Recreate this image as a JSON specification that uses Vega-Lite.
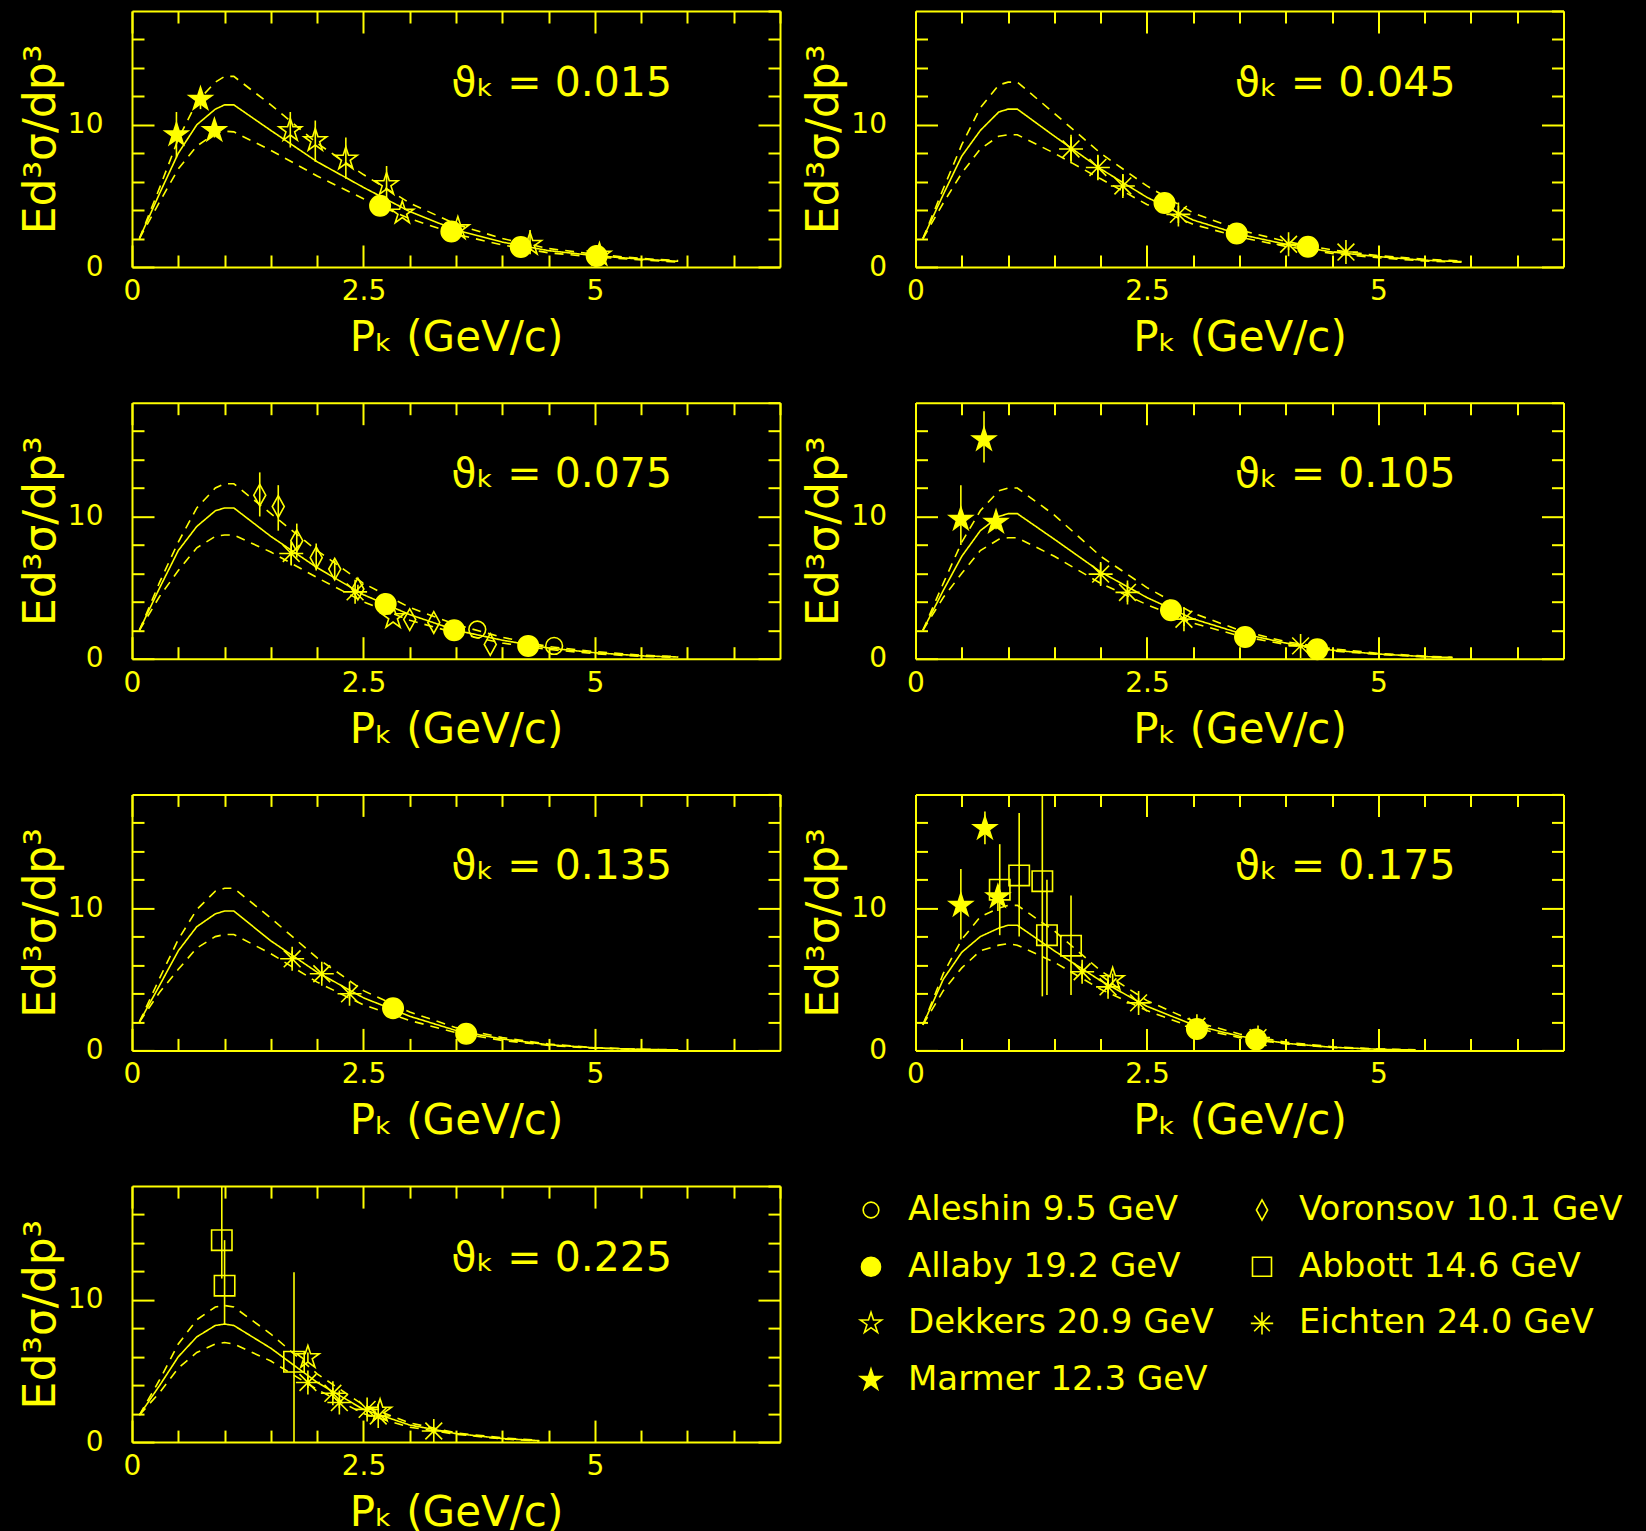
{
  "$schema": "https://vega.github.io/schema/vega-lite/v6.json",
  "background": "#000000",
  "autosize": {"type": "pad"},
  "padding": {"left": 19, "top": 10, "right": 40, "bottom": 0},
  "datasets": {
    "labels": [
      {"panel": "0.015", "label": "ϑₖ = 0.015"},
      {"panel": "0.045", "label": "ϑₖ = 0.045"},
      {"panel": "0.075", "label": "ϑₖ = 0.075"},
      {"panel": "0.105", "label": "ϑₖ = 0.105"},
      {"panel": "0.135", "label": "ϑₖ = 0.135"},
      {"panel": "0.175", "label": "ϑₖ = 0.175"},
      {"panel": "0.225", "label": "ϑₖ = 0.225"}
    ],
    "model": [
      {"panel": "0.015", "p": 0.08, "c": 2.0, "u": 2.0, "l": 2.0},
      {"panel": "0.015", "p": 0.3, "c": 5.2, "u": 5.6, "l": 4.6},
      {"panel": "0.015", "p": 0.5, "c": 8.0, "u": 9.0, "l": 6.9},
      {"panel": "0.015", "p": 0.7, "c": 10.0, "u": 11.6, "l": 8.5},
      {"panel": "0.015", "p": 0.9, "c": 11.1, "u": 13.0, "l": 9.4},
      {"panel": "0.015", "p": 1.0, "c": 11.4, "u": 13.4, "l": 9.55},
      {"panel": "0.015", "p": 1.1, "c": 11.4, "u": 13.4, "l": 9.5},
      {"panel": "0.015", "p": 1.5, "c": 9.6, "u": 11.4, "l": 8.2},
      {"panel": "0.015", "p": 2.0, "c": 7.4, "u": 8.7, "l": 6.4},
      {"panel": "0.015", "p": 2.5, "c": 5.6, "u": 6.5, "l": 4.8},
      {"panel": "0.015", "p": 3.0, "c": 3.9, "u": 4.5, "l": 3.4},
      {"panel": "0.015", "p": 3.5, "c": 2.6, "u": 3.0, "l": 2.3},
      {"panel": "0.015", "p": 4.0, "c": 1.75, "u": 2.0, "l": 1.55},
      {"panel": "0.015", "p": 4.5, "c": 1.15, "u": 1.3, "l": 1.0},
      {"panel": "0.015", "p": 5.0, "c": 0.8, "u": 0.9, "l": 0.7},
      {"panel": "0.015", "p": 5.5, "c": 0.55, "u": 0.6, "l": 0.5},
      {"panel": "0.015", "p": 5.9, "c": 0.4, "u": 0.45, "l": 0.35},
      {"panel": "0.045", "p": 0.08, "c": 2.0, "u": 2.0, "l": 2.0},
      {"panel": "0.045", "p": 0.3, "c": 5.1, "u": 5.5, "l": 4.5},
      {"panel": "0.045", "p": 0.5, "c": 7.8, "u": 8.6, "l": 6.6},
      {"panel": "0.045", "p": 0.7, "c": 9.6, "u": 11.2, "l": 8.3},
      {"panel": "0.045", "p": 0.9, "c": 10.9, "u": 12.8, "l": 9.2},
      {"panel": "0.045", "p": 1.0, "c": 11.1, "u": 13.0, "l": 9.3},
      {"panel": "0.045", "p": 1.1, "c": 11.1, "u": 13.0, "l": 9.3},
      {"panel": "0.045", "p": 1.5, "c": 9.2, "u": 10.8, "l": 8.0},
      {"panel": "0.045", "p": 2.0, "c": 6.9, "u": 8.0, "l": 6.2},
      {"panel": "0.045", "p": 2.5, "c": 4.9, "u": 5.7, "l": 4.4},
      {"panel": "0.045", "p": 3.0, "c": 3.3, "u": 3.8, "l": 3.0},
      {"panel": "0.045", "p": 3.5, "c": 2.3, "u": 2.6, "l": 2.1},
      {"panel": "0.045", "p": 4.0, "c": 1.6, "u": 1.8, "l": 1.45},
      {"panel": "0.045", "p": 4.5, "c": 1.05, "u": 1.2, "l": 0.95},
      {"panel": "0.045", "p": 5.0, "c": 0.73, "u": 0.8, "l": 0.65},
      {"panel": "0.045", "p": 5.5, "c": 0.47, "u": 0.55, "l": 0.42},
      {"panel": "0.045", "p": 5.9, "c": 0.38, "u": 0.42, "l": 0.33},
      {"panel": "0.075", "p": 0.08, "c": 2.0, "u": 2.0, "l": 2.0},
      {"panel": "0.075", "p": 0.3, "c": 5.0, "u": 5.4, "l": 4.4},
      {"panel": "0.075", "p": 0.5, "c": 7.6, "u": 8.2, "l": 6.2},
      {"panel": "0.075", "p": 0.7, "c": 9.3, "u": 10.6, "l": 7.8},
      {"panel": "0.075", "p": 0.9, "c": 10.4, "u": 12.0, "l": 8.6},
      {"panel": "0.075", "p": 1.0, "c": 10.6, "u": 12.3, "l": 8.7},
      {"panel": "0.075", "p": 1.1, "c": 10.6, "u": 12.3, "l": 8.7},
      {"panel": "0.075", "p": 1.5, "c": 8.6, "u": 10.2, "l": 7.5},
      {"panel": "0.075", "p": 2.0, "c": 6.4, "u": 7.6, "l": 5.7},
      {"panel": "0.075", "p": 2.5, "c": 4.5, "u": 5.3, "l": 4.0},
      {"panel": "0.075", "p": 3.0, "c": 3.1, "u": 3.6, "l": 2.7},
      {"panel": "0.075", "p": 3.5, "c": 2.0, "u": 2.4, "l": 1.8},
      {"panel": "0.075", "p": 4.0, "c": 1.3, "u": 1.5, "l": 1.1},
      {"panel": "0.075", "p": 4.5, "c": 0.75, "u": 0.85, "l": 0.65},
      {"panel": "0.075", "p": 5.0, "c": 0.42, "u": 0.5, "l": 0.35},
      {"panel": "0.075", "p": 5.5, "c": 0.2, "u": 0.25, "l": 0.16},
      {"panel": "0.075", "p": 5.9, "c": 0.12, "u": 0.15, "l": 0.1},
      {"panel": "0.105", "p": 0.08, "c": 2.0, "u": 2.0, "l": 2.0},
      {"panel": "0.105", "p": 0.3, "c": 4.8, "u": 5.3, "l": 4.3},
      {"panel": "0.105", "p": 0.5, "c": 7.2, "u": 8.2, "l": 6.0},
      {"panel": "0.105", "p": 0.7, "c": 9.0, "u": 10.4, "l": 7.6},
      {"panel": "0.105", "p": 0.9, "c": 10.0, "u": 11.8, "l": 8.4},
      {"panel": "0.105", "p": 1.0, "c": 10.2, "u": 12.0, "l": 8.5},
      {"panel": "0.105", "p": 1.1, "c": 10.2, "u": 12.0, "l": 8.5},
      {"panel": "0.105", "p": 1.5, "c": 8.4, "u": 10.1, "l": 7.2},
      {"panel": "0.105", "p": 2.0, "c": 6.1, "u": 7.2, "l": 5.3},
      {"panel": "0.105", "p": 2.5, "c": 4.3, "u": 5.0, "l": 3.8},
      {"panel": "0.105", "p": 3.0, "c": 2.8, "u": 3.2, "l": 2.5},
      {"panel": "0.105", "p": 3.5, "c": 1.8, "u": 2.0, "l": 1.6},
      {"panel": "0.105", "p": 4.0, "c": 1.1, "u": 1.2, "l": 1.0},
      {"panel": "0.105", "p": 4.5, "c": 0.6, "u": 0.7, "l": 0.55},
      {"panel": "0.105", "p": 5.0, "c": 0.33, "u": 0.38, "l": 0.3},
      {"panel": "0.105", "p": 5.5, "c": 0.15, "u": 0.18, "l": 0.13},
      {"panel": "0.105", "p": 5.8, "c": 0.08, "u": 0.1, "l": 0.07},
      {"panel": "0.135", "p": 0.08, "c": 2.0, "u": 2.0, "l": 2.0},
      {"panel": "0.135", "p": 0.3, "c": 4.6, "u": 5.1, "l": 4.1},
      {"panel": "0.135", "p": 0.5, "c": 7.0, "u": 7.8, "l": 5.7},
      {"panel": "0.135", "p": 0.7, "c": 8.7, "u": 9.9, "l": 7.2},
      {"panel": "0.135", "p": 0.9, "c": 9.6, "u": 11.2, "l": 8.0},
      {"panel": "0.135", "p": 1.0, "c": 9.8, "u": 11.4, "l": 8.15},
      {"panel": "0.135", "p": 1.1, "c": 9.8, "u": 11.4, "l": 8.15},
      {"panel": "0.135", "p": 1.5, "c": 7.7, "u": 9.3, "l": 6.8},
      {"panel": "0.135", "p": 2.0, "c": 5.5, "u": 6.5, "l": 4.8},
      {"panel": "0.135", "p": 2.5, "c": 3.7, "u": 4.2, "l": 3.2},
      {"panel": "0.135", "p": 3.0, "c": 2.4, "u": 2.7, "l": 2.1},
      {"panel": "0.135", "p": 3.5, "c": 1.4, "u": 1.6, "l": 1.25},
      {"panel": "0.135", "p": 4.0, "c": 0.8, "u": 0.9, "l": 0.7},
      {"panel": "0.135", "p": 4.5, "c": 0.4, "u": 0.45, "l": 0.35},
      {"panel": "0.135", "p": 5.0, "c": 0.18, "u": 0.2, "l": 0.15},
      {"panel": "0.135", "p": 5.5, "c": 0.07, "u": 0.08, "l": 0.06},
      {"panel": "0.135", "p": 5.9, "c": 0.03, "u": 0.04, "l": 0.02},
      {"panel": "0.175", "p": 0.08, "c": 1.8, "u": 1.8, "l": 1.8},
      {"panel": "0.175", "p": 0.3, "c": 5.0, "u": 5.4, "l": 4.2},
      {"panel": "0.175", "p": 0.5, "c": 6.9, "u": 7.8, "l": 5.8},
      {"panel": "0.175", "p": 0.7, "c": 8.0, "u": 9.4, "l": 7.0},
      {"panel": "0.175", "p": 0.9, "c": 8.6, "u": 10.0, "l": 7.4},
      {"panel": "0.175", "p": 1.0, "c": 8.8, "u": 10.2, "l": 7.5},
      {"panel": "0.175", "p": 1.1, "c": 8.8, "u": 10.2, "l": 7.4},
      {"panel": "0.175", "p": 1.5, "c": 7.0, "u": 8.4, "l": 6.2},
      {"panel": "0.175", "p": 2.0, "c": 4.9, "u": 5.6, "l": 4.3},
      {"panel": "0.175", "p": 2.5, "c": 3.1, "u": 3.5, "l": 2.8},
      {"panel": "0.175", "p": 3.0, "c": 1.8, "u": 2.05, "l": 1.6},
      {"panel": "0.175", "p": 3.5, "c": 1.0, "u": 1.15, "l": 0.9},
      {"panel": "0.175", "p": 4.0, "c": 0.5, "u": 0.58, "l": 0.45},
      {"panel": "0.175", "p": 4.5, "c": 0.22, "u": 0.26, "l": 0.2},
      {"panel": "0.175", "p": 5.0, "c": 0.08, "u": 0.1, "l": 0.07},
      {"panel": "0.175", "p": 5.4, "c": 0.03, "u": 0.04, "l": 0.02},
      {"panel": "0.225", "p": 0.08, "c": 1.9, "u": 1.9, "l": 1.9},
      {"panel": "0.225", "p": 0.3, "c": 4.0, "u": 4.4, "l": 3.5},
      {"panel": "0.225", "p": 0.5, "c": 6.0, "u": 6.9, "l": 5.2},
      {"panel": "0.225", "p": 0.7, "c": 7.4, "u": 8.6, "l": 6.3},
      {"panel": "0.225", "p": 0.9, "c": 8.2, "u": 9.5, "l": 6.9},
      {"panel": "0.225", "p": 1.0, "c": 8.3, "u": 9.6, "l": 7.0},
      {"panel": "0.225", "p": 1.1, "c": 8.2, "u": 9.5, "l": 6.9},
      {"panel": "0.225", "p": 1.5, "c": 6.6, "u": 7.6, "l": 5.7},
      {"panel": "0.225", "p": 2.0, "c": 4.2, "u": 4.8, "l": 3.7},
      {"panel": "0.225", "p": 2.5, "c": 2.3, "u": 2.6, "l": 2.0},
      {"panel": "0.225", "p": 3.0, "c": 1.2, "u": 1.35, "l": 1.05},
      {"panel": "0.225", "p": 3.5, "c": 0.6, "u": 0.65, "l": 0.55},
      {"panel": "0.225", "p": 4.0, "c": 0.25, "u": 0.3, "l": 0.22},
      {"panel": "0.225", "p": 4.4, "c": 0.1, "u": 0.12, "l": 0.08}
    ],
    "obs": [
      {"panel": "0.015", "exp": "Marmer 12.3 GeV", "p": 0.48, "v": 9.3, "lo": 7.7, "hi": 10.9},
      {"panel": "0.015", "exp": "Marmer 12.3 GeV", "p": 0.74, "v": 11.8, "lo": 11.1, "hi": 12.5},
      {"panel": "0.015", "exp": "Marmer 12.3 GeV", "p": 0.89, "v": 9.6, "lo": 9.1, "hi": 10.1},
      {"panel": "0.015", "exp": "Dekkers 20.9 GeV", "p": 1.71, "v": 9.6, "lo": 8.4, "hi": 10.9},
      {"panel": "0.015", "exp": "Dekkers 20.9 GeV", "p": 1.98, "v": 8.9, "lo": 7.4, "hi": 10.3},
      {"panel": "0.015", "exp": "Dekkers 20.9 GeV", "p": 2.31, "v": 7.6, "lo": 6.2, "hi": 9.1},
      {"panel": "0.015", "exp": "Dekkers 20.9 GeV", "p": 2.75, "v": 5.8, "lo": 4.8, "hi": 7.1},
      {"panel": "0.015", "exp": "Allaby 19.2 GeV", "p": 2.68, "v": 4.3},
      {"panel": "0.015", "exp": "Dekkers 20.9 GeV", "p": 2.92, "v": 3.8},
      {"panel": "0.015", "exp": "Allaby 19.2 GeV", "p": 3.45, "v": 2.5},
      {"panel": "0.015", "exp": "Dekkers 20.9 GeV", "p": 3.52, "v": 2.7},
      {"panel": "0.015", "exp": "Allaby 19.2 GeV", "p": 4.2, "v": 1.4},
      {"panel": "0.015", "exp": "Dekkers 20.9 GeV", "p": 4.3, "v": 1.6, "lo": 0.9, "hi": 2.6},
      {"panel": "0.015", "exp": "Allaby 19.2 GeV", "p": 5.02, "v": 0.78},
      {"panel": "0.015", "exp": "Dekkers 20.9 GeV", "p": 5.05, "v": 0.85, "lo": 0.4, "hi": 1.3},
      {"panel": "0.045", "exp": "Eichten 24.0 GeV", "p": 1.68, "v": 8.3, "lo": 7.3, "hi": 9.3},
      {"panel": "0.045", "exp": "Eichten 24.0 GeV", "p": 1.97, "v": 7.0, "lo": 6.1, "hi": 7.9},
      {"panel": "0.045", "exp": "Eichten 24.0 GeV", "p": 2.24, "v": 5.7, "lo": 5.0, "hi": 6.5},
      {"panel": "0.045", "exp": "Allaby 19.2 GeV", "p": 2.69, "v": 4.5},
      {"panel": "0.045", "exp": "Eichten 24.0 GeV", "p": 2.84, "v": 3.7, "lo": 3.1, "hi": 4.3},
      {"panel": "0.045", "exp": "Allaby 19.2 GeV", "p": 3.47, "v": 2.35},
      {"panel": "0.045", "exp": "Eichten 24.0 GeV", "p": 4.03, "v": 1.6, "lo": 1.2, "hi": 2.0},
      {"panel": "0.045", "exp": "Allaby 19.2 GeV", "p": 4.24, "v": 1.43},
      {"panel": "0.045", "exp": "Eichten 24.0 GeV", "p": 4.65, "v": 1.05, "lo": 0.8, "hi": 1.3},
      {"panel": "0.075", "exp": "Voronsov 10.1 GeV", "p": 1.38, "v": 11.5, "lo": 10.0, "hi": 13.1},
      {"panel": "0.075", "exp": "Voronsov 10.1 GeV", "p": 1.58, "v": 10.7, "lo": 9.0, "hi": 12.2},
      {"panel": "0.075", "exp": "Voronsov 10.1 GeV", "p": 1.78, "v": 8.3, "lo": 7.1, "hi": 9.5},
      {"panel": "0.075", "exp": "Eichten 24.0 GeV", "p": 1.72, "v": 7.4, "lo": 6.6, "hi": 8.2},
      {"panel": "0.075", "exp": "Voronsov 10.1 GeV", "p": 1.99, "v": 7.1, "lo": 6.2, "hi": 8.1},
      {"panel": "0.075", "exp": "Voronsov 10.1 GeV", "p": 2.19, "v": 6.3, "lo": 5.7, "hi": 6.9},
      {"panel": "0.075", "exp": "Voronsov 10.1 GeV", "p": 2.44, "v": 4.9, "lo": 4.6, "hi": 5.2},
      {"panel": "0.075", "exp": "Eichten 24.0 GeV", "p": 2.41, "v": 4.7},
      {"panel": "0.075", "exp": "Allaby 19.2 GeV", "p": 2.74, "v": 3.85},
      {"panel": "0.075", "exp": "Dekkers 20.9 GeV", "p": 2.82, "v": 2.9},
      {"panel": "0.075", "exp": "Voronsov 10.1 GeV", "p": 3.0, "v": 2.75},
      {"panel": "0.075", "exp": "Voronsov 10.1 GeV", "p": 3.26, "v": 2.55},
      {"panel": "0.075", "exp": "Allaby 19.2 GeV", "p": 3.48, "v": 2.0},
      {"panel": "0.075", "exp": "Aleshin 9.5 GeV", "p": 3.73, "v": 2.05},
      {"panel": "0.075", "exp": "Voronsov 10.1 GeV", "p": 3.87, "v": 1.0},
      {"panel": "0.075", "exp": "Allaby 19.2 GeV", "p": 4.28, "v": 0.9},
      {"panel": "0.075", "exp": "Aleshin 9.5 GeV", "p": 4.56, "v": 0.9},
      {"panel": "0.105", "exp": "Marmer 12.3 GeV", "p": 0.74, "v": 15.4, "lo": 13.8, "hi": 17.4},
      {"panel": "0.105", "exp": "Marmer 12.3 GeV", "p": 0.49, "v": 9.8, "lo": 8.0, "hi": 12.2},
      {"panel": "0.105", "exp": "Marmer 12.3 GeV", "p": 0.87, "v": 9.6, "lo": 9.1, "hi": 10.2},
      {"panel": "0.105", "exp": "Eichten 24.0 GeV", "p": 2.0, "v": 5.95, "lo": 5.2, "hi": 6.7},
      {"panel": "0.105", "exp": "Eichten 24.0 GeV", "p": 2.29, "v": 4.66, "lo": 4.0, "hi": 5.3},
      {"panel": "0.105", "exp": "Allaby 19.2 GeV", "p": 2.76, "v": 3.4},
      {"panel": "0.105", "exp": "Eichten 24.0 GeV", "p": 2.9, "v": 2.78, "lo": 2.3, "hi": 3.2},
      {"panel": "0.105", "exp": "Allaby 19.2 GeV", "p": 3.56, "v": 1.53},
      {"panel": "0.105", "exp": "Eichten 24.0 GeV", "p": 4.16, "v": 0.9, "lo": 0.7, "hi": 1.1},
      {"panel": "0.105", "exp": "Allaby 19.2 GeV", "p": 4.34, "v": 0.66},
      {"panel": "0.135", "exp": "Eichten 24.0 GeV", "p": 1.73, "v": 6.44, "lo": 5.9, "hi": 7.0},
      {"panel": "0.135", "exp": "Eichten 24.0 GeV", "p": 2.05, "v": 5.39, "lo": 4.9, "hi": 5.9},
      {"panel": "0.135", "exp": "Eichten 24.0 GeV", "p": 2.35, "v": 3.98, "lo": 3.6, "hi": 4.4},
      {"panel": "0.135", "exp": "Allaby 19.2 GeV", "p": 2.82, "v": 2.97},
      {"panel": "0.135", "exp": "Allaby 19.2 GeV", "p": 3.61, "v": 1.17},
      {"panel": "0.175", "exp": "Marmer 12.3 GeV", "p": 0.75, "v": 15.6, "lo": 14.5, "hi": 16.8},
      {"panel": "0.175", "exp": "Marmer 12.3 GeV", "p": 0.49, "v": 10.2, "lo": 7.8, "hi": 12.75},
      {"panel": "0.175", "exp": "Abbott 14.6 GeV", "p": 0.91, "v": 11.3, "lo": 8.1, "hi": 14.5},
      {"panel": "0.175", "exp": "Marmer 12.3 GeV", "p": 0.89, "v": 10.8, "lo": 9.8, "hi": 11.6},
      {"panel": "0.175", "exp": "Abbott 14.6 GeV", "p": 1.12, "v": 12.3, "lo": 8.0, "hi": 16.7},
      {"panel": "0.175", "exp": "Abbott 14.6 GeV", "p": 1.37, "v": 11.9, "lo": 3.8, "hi": 18.0},
      {"panel": "0.175", "exp": "Abbott 14.6 GeV", "p": 1.42, "v": 8.1, "lo": 3.9, "hi": 12.0},
      {"panel": "0.175", "exp": "Abbott 14.6 GeV", "p": 1.68, "v": 7.36, "lo": 3.9, "hi": 10.9},
      {"panel": "0.175", "exp": "Eichten 24.0 GeV", "p": 1.8, "v": 5.53, "lo": 5.0, "hi": 6.1},
      {"panel": "0.175", "exp": "Dekkers 20.9 GeV", "p": 2.13, "v": 4.99, "lo": 4.6, "hi": 5.4},
      {"panel": "0.175", "exp": "Eichten 24.0 GeV", "p": 2.08, "v": 4.47, "lo": 4.0, "hi": 4.9},
      {"panel": "0.175", "exp": "Eichten 24.0 GeV", "p": 2.41, "v": 3.34, "lo": 3.0, "hi": 3.7},
      {"panel": "0.175", "exp": "Eichten 24.0 GeV", "p": 3.04, "v": 1.7, "lo": 1.4, "hi": 2.0},
      {"panel": "0.175", "exp": "Allaby 19.2 GeV", "p": 3.04, "v": 1.5},
      {"panel": "0.175", "exp": "Allaby 19.2 GeV", "p": 3.68, "v": 0.77},
      {"panel": "0.175", "exp": "Eichten 24.0 GeV", "p": 3.7, "v": 0.9},
      {"panel": "0.225", "exp": "Abbott 14.6 GeV", "p": 0.97, "v": 14.2, "lo": 11.5, "hi": 18.0},
      {"panel": "0.225", "exp": "Abbott 14.6 GeV", "p": 1.0, "v": 11.0, "lo": 8.3, "hi": 14.2},
      {"panel": "0.225", "exp": "Abbott 14.6 GeV", "p": 1.75, "v": 5.65, "lo": 0.0, "hi": 11.95},
      {"panel": "0.225", "exp": "Dekkers 20.9 GeV", "p": 1.9, "v": 5.95, "lo": 5.6, "hi": 6.3},
      {"panel": "0.225", "exp": "Eichten 24.0 GeV", "p": 1.9, "v": 4.19, "lo": 3.8, "hi": 4.6},
      {"panel": "0.225", "exp": "Eichten 24.0 GeV", "p": 2.17, "v": 3.43, "lo": 3.0, "hi": 3.8},
      {"panel": "0.225", "exp": "Eichten 24.0 GeV", "p": 2.24, "v": 2.78, "lo": 2.4, "hi": 3.1},
      {"panel": "0.225", "exp": "Eichten 24.0 GeV", "p": 2.54, "v": 2.3, "lo": 2.0, "hi": 2.6},
      {"panel": "0.225", "exp": "Dekkers 20.9 GeV", "p": 2.68, "v": 2.19},
      {"panel": "0.225", "exp": "Eichten 24.0 GeV", "p": 2.66, "v": 1.84},
      {"panel": "0.225", "exp": "Eichten 24.0 GeV", "p": 3.26, "v": 0.78, "lo": 0.6, "hi": 1.0}
    ]
  },
  "columns": 2,
  "spacing": {"row": 135.7, "column": 135.5},
  "bounds": "flush",
  "concat": [
    {"width": 648, "height": 256, "layer": [
      {"data": {"name": "model"}, "transform": [{"filter": "datum.panel == '0.015'"}, {"fold": ["c", "u", "l"], "as": ["curve", "v"]}],
       "mark": {"type": "line", "color": "#ffff00", "strokeWidth": 1.6},
       "encoding": {
         "x": {"field": "p", "type": "quantitative", "scale": {"domain": [0, 7], "nice": false, "zero": false}, "axis": {"orient": "bottom", "values": [0, 0.5, 1, 1.5, 2, 2.5, 3, 3.5, 4, 4.5, 5, 5.5, 6, 6.5], "labelExpr": "datum.value == 0 ? '0' : datum.value == 2.5 ? '2.5' : datum.value == 5 ? '5' : ''", "tickSize": {"condition": {"test": "datum.value == 0 || datum.value == 2.5 || datum.value == 5", "value": -22}, "value": -12}, "labelPadding": 32.5, "title": "Pₖ (GeV/c)", "titleFontSize": 42, "titlePadding": 2}},
         "y": {"field": "v", "type": "quantitative", "scale": {"domain": [0, 18], "nice": false}, "axis": {"orient": "left", "values": [0, 2, 4, 6, 8, 10, 12, 14, 16], "labelExpr": "datum.value == 0 ? '0' : datum.value == 10 ? '10' : ''", "tickSize": {"condition": {"test": "datum.value == 0 || datum.value == 10", "value": -22}, "value": -12}, "labelPadding": 51, "title": "Ed³σ/dp³", "titleFontSize": 44, "titlePadding": 4}},
         "strokeDash": {"field": "curve", "type": "nominal", "scale": {"domain": ["c", "u", "l"], "range": [[1, 0], [9, 7], [9, 7]]}, "legend": null}
       }},
      {"data": {"name": "obs"}, "transform": [{"filter": "datum.panel == '0.015' && isValid(datum.lo)"}],
       "mark": {"type": "rule", "color": "#ffff00", "strokeWidth": 1.6},
       "encoding": {
         "x": {"field": "p", "type": "quantitative", "axis": {"orient": "top", "values": [0, 0.5, 1, 1.5, 2, 2.5, 3, 3.5, 4, 4.5, 5, 5.5, 6, 6.5, 7], "labels": false, "tickSize": {"condition": {"test": "datum.value == 0 || datum.value == 2.5 || datum.value == 5", "value": -22}, "value": -12}, "title": null}},
         "y": {"field": "lo", "type": "quantitative", "axis": {"orient": "right", "values": [0, 2, 4, 6, 8, 10, 12, 14, 16, 18], "labels": false, "tickSize": {"condition": {"test": "datum.value == 0 || datum.value == 10", "value": -22}, "value": -12}, "title": null}},
         "y2": {"field": "hi"}
       }},
      {"data": {"name": "obs"}, "transform": [{"filter": "datum.panel == '0.015'"}],
       "mark": {"type": "point", "filled": true, "stroke": "#ffff00", "strokeWidth": 1.6, "size": 576, "opacity": 1},
       "encoding": {
         "x": {"field": "p", "type": "quantitative", "axis": null},
         "y": {"field": "v", "type": "quantitative", "axis": null},
         "shape": {"field": "exp", "type": "nominal", "scale": {"domain": ["Aleshin 9.5 GeV", "Allaby 19.2 GeV", "Dekkers 20.9 GeV", "Marmer 12.3 GeV", "Voronsov 10.1 GeV", "Abbott 14.6 GeV", "Eichten 24.0 GeV"], "range": ["M-0.7,0A0.7,0.7,0,1,0,0.7,0A0.7,0.7,0,1,0,-0.7,0Z", "M-0.85,0A0.85,0.85,0,1,0,0.85,0A0.85,0.85,0,1,0,-0.85,0Z", "M0,-1L0.225,-0.309L0.951,-0.309L0.363,0.118L0.588,0.809L0,0.382L-0.588,0.809L-0.363,0.118L-0.951,-0.309L-0.225,-0.309Z", "M0,-1L0.225,-0.309L0.951,-0.309L0.363,0.118L0.588,0.809L0,0.382L-0.588,0.809L-0.363,0.118L-0.951,-0.309L-0.225,-0.309Z", "M0,-0.9L0.5,0L0,0.9L-0.5,0Z", "M-0.85,-0.85L0.85,-0.85L0.85,0.85L-0.85,0.85Z", "M0,-1L0,1M-1,0L1,0M-0.7,-0.7L0.7,0.7M-0.7,0.7L0.7,-0.7"]}, "legend": {"title": null, "encode": {"symbols": {"update": {"stroke": {"value": "#ffff00"}, "strokeWidth": {"value": 1.6}}}}}},
         "fill": {"field": "exp", "type": "nominal", "scale": {"domain": ["Aleshin 9.5 GeV", "Allaby 19.2 GeV", "Dekkers 20.9 GeV", "Marmer 12.3 GeV", "Voronsov 10.1 GeV", "Abbott 14.6 GeV", "Eichten 24.0 GeV"], "range": ["transparent", "#ffff00", "transparent", "#ffff00", "transparent", "transparent", "transparent"]}, "legend": {"title": null, "encode": {"symbols": {"update": {"stroke": {"value": "#ffff00"}, "strokeWidth": {"value": 1.6}}}}}}
       }},
      {"data": {"name": "labels"}, "transform": [{"filter": "datum.panel == '0.015'"}],
       "mark": {"type": "text", "align": "left", "baseline": "middle", "fontSize": 41, "color": "#ffff00", "font": "DejaVu Sans"},
       "encoding": {"x": {"datum": 3.45, "type": "quantitative", "axis": null}, "y": {"datum": 12.9, "type": "quantitative", "axis": null}, "text": {"field": "label"}}}
    ], "resolve": {"axis": {"x": "independent", "y": "independent"}}},
    {"width": 648, "height": 256, "layer": [
      {"data": {"name": "model"}, "transform": [{"filter": "datum.panel == '0.045'"}, {"fold": ["c", "u", "l"], "as": ["curve", "v"]}],
       "mark": {"type": "line", "color": "#ffff00", "strokeWidth": 1.6},
       "encoding": {
         "x": {"field": "p", "type": "quantitative", "scale": {"domain": [0, 7], "nice": false, "zero": false}, "axis": {"orient": "bottom", "values": [0, 0.5, 1, 1.5, 2, 2.5, 3, 3.5, 4, 4.5, 5, 5.5, 6, 6.5], "labelExpr": "datum.value == 0 ? '0' : datum.value == 2.5 ? '2.5' : datum.value == 5 ? '5' : ''", "tickSize": {"condition": {"test": "datum.value == 0 || datum.value == 2.5 || datum.value == 5", "value": -22}, "value": -12}, "labelPadding": 32.5, "title": "Pₖ (GeV/c)", "titleFontSize": 42, "titlePadding": 2}},
         "y": {"field": "v", "type": "quantitative", "scale": {"domain": [0, 18], "nice": false}, "axis": {"orient": "left", "values": [0, 2, 4, 6, 8, 10, 12, 14, 16], "labelExpr": "datum.value == 0 ? '0' : datum.value == 10 ? '10' : ''", "tickSize": {"condition": {"test": "datum.value == 0 || datum.value == 10", "value": -22}, "value": -12}, "labelPadding": 51, "title": "Ed³σ/dp³", "titleFontSize": 44, "titlePadding": 4}},
         "strokeDash": {"field": "curve", "type": "nominal", "scale": {"domain": ["c", "u", "l"], "range": [[1, 0], [9, 7], [9, 7]]}, "legend": null}
       }},
      {"data": {"name": "obs"}, "transform": [{"filter": "datum.panel == '0.045' && isValid(datum.lo)"}],
       "mark": {"type": "rule", "color": "#ffff00", "strokeWidth": 1.6},
       "encoding": {
         "x": {"field": "p", "type": "quantitative", "axis": {"orient": "top", "values": [0, 0.5, 1, 1.5, 2, 2.5, 3, 3.5, 4, 4.5, 5, 5.5, 6, 6.5, 7], "labels": false, "tickSize": {"condition": {"test": "datum.value == 0 || datum.value == 2.5 || datum.value == 5", "value": -22}, "value": -12}, "title": null}},
         "y": {"field": "lo", "type": "quantitative", "axis": {"orient": "right", "values": [0, 2, 4, 6, 8, 10, 12, 14, 16, 18], "labels": false, "tickSize": {"condition": {"test": "datum.value == 0 || datum.value == 10", "value": -22}, "value": -12}, "title": null}},
         "y2": {"field": "hi"}
       }},
      {"data": {"name": "obs"}, "transform": [{"filter": "datum.panel == '0.045'"}],
       "mark": {"type": "point", "filled": true, "stroke": "#ffff00", "strokeWidth": 1.6, "size": 576, "opacity": 1},
       "encoding": {
         "x": {"field": "p", "type": "quantitative", "axis": null},
         "y": {"field": "v", "type": "quantitative", "axis": null},
         "shape": {"field": "exp", "type": "nominal", "legend": {"title": null}},
         "fill": {"field": "exp", "type": "nominal", "legend": {"title": null}}
       }},
      {"data": {"name": "labels"}, "transform": [{"filter": "datum.panel == '0.045'"}],
       "mark": {"type": "text", "align": "left", "baseline": "middle", "fontSize": 41, "color": "#ffff00", "font": "DejaVu Sans"},
       "encoding": {"x": {"datum": 3.45, "type": "quantitative", "axis": null}, "y": {"datum": 12.9, "type": "quantitative", "axis": null}, "text": {"field": "label"}}}
    ], "resolve": {"axis": {"x": "independent", "y": "independent"}}},
    {"width": 648, "height": 256, "layer": [
      {"data": {"name": "model"}, "transform": [{"filter": "datum.panel == '0.075'"}, {"fold": ["c", "u", "l"], "as": ["curve", "v"]}],
       "mark": {"type": "line", "color": "#ffff00", "strokeWidth": 1.6},
       "encoding": {
         "x": {"field": "p", "type": "quantitative", "scale": {"domain": [0, 7], "nice": false, "zero": false}, "axis": {"orient": "bottom", "values": [0, 0.5, 1, 1.5, 2, 2.5, 3, 3.5, 4, 4.5, 5, 5.5, 6, 6.5], "labelExpr": "datum.value == 0 ? '0' : datum.value == 2.5 ? '2.5' : datum.value == 5 ? '5' : ''", "tickSize": {"condition": {"test": "datum.value == 0 || datum.value == 2.5 || datum.value == 5", "value": -22}, "value": -12}, "labelPadding": 32.5, "title": "Pₖ (GeV/c)", "titleFontSize": 42, "titlePadding": 2}},
         "y": {"field": "v", "type": "quantitative", "scale": {"domain": [0, 18], "nice": false}, "axis": {"orient": "left", "values": [0, 2, 4, 6, 8, 10, 12, 14, 16], "labelExpr": "datum.value == 0 ? '0' : datum.value == 10 ? '10' : ''", "tickSize": {"condition": {"test": "datum.value == 0 || datum.value == 10", "value": -22}, "value": -12}, "labelPadding": 51, "title": "Ed³σ/dp³", "titleFontSize": 44, "titlePadding": 4}},
         "strokeDash": {"field": "curve", "type": "nominal", "scale": {"domain": ["c", "u", "l"], "range": [[1, 0], [9, 7], [9, 7]]}, "legend": null}
       }},
      {"data": {"name": "obs"}, "transform": [{"filter": "datum.panel == '0.075' && isValid(datum.lo)"}],
       "mark": {"type": "rule", "color": "#ffff00", "strokeWidth": 1.6},
       "encoding": {
         "x": {"field": "p", "type": "quantitative", "axis": {"orient": "top", "values": [0, 0.5, 1, 1.5, 2, 2.5, 3, 3.5, 4, 4.5, 5, 5.5, 6, 6.5, 7], "labels": false, "tickSize": {"condition": {"test": "datum.value == 0 || datum.value == 2.5 || datum.value == 5", "value": -22}, "value": -12}, "title": null}},
         "y": {"field": "lo", "type": "quantitative", "axis": {"orient": "right", "values": [0, 2, 4, 6, 8, 10, 12, 14, 16, 18], "labels": false, "tickSize": {"condition": {"test": "datum.value == 0 || datum.value == 10", "value": -22}, "value": -12}, "title": null}},
         "y2": {"field": "hi"}
       }},
      {"data": {"name": "obs"}, "transform": [{"filter": "datum.panel == '0.075'"}],
       "mark": {"type": "point", "filled": true, "stroke": "#ffff00", "strokeWidth": 1.6, "size": 576, "opacity": 1},
       "encoding": {
         "x": {"field": "p", "type": "quantitative", "axis": null},
         "y": {"field": "v", "type": "quantitative", "axis": null},
         "shape": {"field": "exp", "type": "nominal", "legend": {"title": null}},
         "fill": {"field": "exp", "type": "nominal", "legend": {"title": null}}
       }},
      {"data": {"name": "labels"}, "transform": [{"filter": "datum.panel == '0.075'"}],
       "mark": {"type": "text", "align": "left", "baseline": "middle", "fontSize": 41, "color": "#ffff00", "font": "DejaVu Sans"},
       "encoding": {"x": {"datum": 3.45, "type": "quantitative", "axis": null}, "y": {"datum": 12.9, "type": "quantitative", "axis": null}, "text": {"field": "label"}}}
    ], "resolve": {"axis": {"x": "independent", "y": "independent"}}},
    {"width": 648, "height": 256, "layer": [
      {"data": {"name": "model"}, "transform": [{"filter": "datum.panel == '0.105'"}, {"fold": ["c", "u", "l"], "as": ["curve", "v"]}],
       "mark": {"type": "line", "color": "#ffff00", "strokeWidth": 1.6},
       "encoding": {
         "x": {"field": "p", "type": "quantitative", "scale": {"domain": [0, 7], "nice": false, "zero": false}, "axis": {"orient": "bottom", "values": [0, 0.5, 1, 1.5, 2, 2.5, 3, 3.5, 4, 4.5, 5, 5.5, 6, 6.5], "labelExpr": "datum.value == 0 ? '0' : datum.value == 2.5 ? '2.5' : datum.value == 5 ? '5' : ''", "tickSize": {"condition": {"test": "datum.value == 0 || datum.value == 2.5 || datum.value == 5", "value": -22}, "value": -12}, "labelPadding": 32.5, "title": "Pₖ (GeV/c)", "titleFontSize": 42, "titlePadding": 2}},
         "y": {"field": "v", "type": "quantitative", "scale": {"domain": [0, 18], "nice": false}, "axis": {"orient": "left", "values": [0, 2, 4, 6, 8, 10, 12, 14, 16], "labelExpr": "datum.value == 0 ? '0' : datum.value == 10 ? '10' : ''", "tickSize": {"condition": {"test": "datum.value == 0 || datum.value == 10", "value": -22}, "value": -12}, "labelPadding": 51, "title": "Ed³σ/dp³", "titleFontSize": 44, "titlePadding": 4}},
         "strokeDash": {"field": "curve", "type": "nominal", "scale": {"domain": ["c", "u", "l"], "range": [[1, 0], [9, 7], [9, 7]]}, "legend": null}
       }},
      {"data": {"name": "obs"}, "transform": [{"filter": "datum.panel == '0.105' && isValid(datum.lo)"}],
       "mark": {"type": "rule", "color": "#ffff00", "strokeWidth": 1.6},
       "encoding": {
         "x": {"field": "p", "type": "quantitative", "axis": {"orient": "top", "values": [0, 0.5, 1, 1.5, 2, 2.5, 3, 3.5, 4, 4.5, 5, 5.5, 6, 6.5, 7], "labels": false, "tickSize": {"condition": {"test": "datum.value == 0 || datum.value == 2.5 || datum.value == 5", "value": -22}, "value": -12}, "title": null}},
         "y": {"field": "lo", "type": "quantitative", "axis": {"orient": "right", "values": [0, 2, 4, 6, 8, 10, 12, 14, 16, 18], "labels": false, "tickSize": {"condition": {"test": "datum.value == 0 || datum.value == 10", "value": -22}, "value": -12}, "title": null}},
         "y2": {"field": "hi"}
       }},
      {"data": {"name": "obs"}, "transform": [{"filter": "datum.panel == '0.105'"}],
       "mark": {"type": "point", "filled": true, "stroke": "#ffff00", "strokeWidth": 1.6, "size": 576, "opacity": 1},
       "encoding": {
         "x": {"field": "p", "type": "quantitative", "axis": null},
         "y": {"field": "v", "type": "quantitative", "axis": null},
         "shape": {"field": "exp", "type": "nominal", "legend": {"title": null}},
         "fill": {"field": "exp", "type": "nominal", "legend": {"title": null}}
       }},
      {"data": {"name": "labels"}, "transform": [{"filter": "datum.panel == '0.105'"}],
       "mark": {"type": "text", "align": "left", "baseline": "middle", "fontSize": 41, "color": "#ffff00", "font": "DejaVu Sans"},
       "encoding": {"x": {"datum": 3.45, "type": "quantitative", "axis": null}, "y": {"datum": 12.9, "type": "quantitative", "axis": null}, "text": {"field": "label"}}}
    ], "resolve": {"axis": {"x": "independent", "y": "independent"}}},
    {"width": 648, "height": 256, "layer": [
      {"data": {"name": "model"}, "transform": [{"filter": "datum.panel == '0.135'"}, {"fold": ["c", "u", "l"], "as": ["curve", "v"]}],
       "mark": {"type": "line", "color": "#ffff00", "strokeWidth": 1.6},
       "encoding": {
         "x": {"field": "p", "type": "quantitative", "scale": {"domain": [0, 7], "nice": false, "zero": false}, "axis": {"orient": "bottom", "values": [0, 0.5, 1, 1.5, 2, 2.5, 3, 3.5, 4, 4.5, 5, 5.5, 6, 6.5], "labelExpr": "datum.value == 0 ? '0' : datum.value == 2.5 ? '2.5' : datum.value == 5 ? '5' : ''", "tickSize": {"condition": {"test": "datum.value == 0 || datum.value == 2.5 || datum.value == 5", "value": -22}, "value": -12}, "labelPadding": 32.5, "title": "Pₖ (GeV/c)", "titleFontSize": 42, "titlePadding": 2}},
         "y": {"field": "v", "type": "quantitative", "scale": {"domain": [0, 18], "nice": false}, "axis": {"orient": "left", "values": [0, 2, 4, 6, 8, 10, 12, 14, 16], "labelExpr": "datum.value == 0 ? '0' : datum.value == 10 ? '10' : ''", "tickSize": {"condition": {"test": "datum.value == 0 || datum.value == 10", "value": -22}, "value": -12}, "labelPadding": 51, "title": "Ed³σ/dp³", "titleFontSize": 44, "titlePadding": 4}},
         "strokeDash": {"field": "curve", "type": "nominal", "scale": {"domain": ["c", "u", "l"], "range": [[1, 0], [9, 7], [9, 7]]}, "legend": null}
       }},
      {"data": {"name": "obs"}, "transform": [{"filter": "datum.panel == '0.135' && isValid(datum.lo)"}],
       "mark": {"type": "rule", "color": "#ffff00", "strokeWidth": 1.6},
       "encoding": {
         "x": {"field": "p", "type": "quantitative", "axis": {"orient": "top", "values": [0, 0.5, 1, 1.5, 2, 2.5, 3, 3.5, 4, 4.5, 5, 5.5, 6, 6.5, 7], "labels": false, "tickSize": {"condition": {"test": "datum.value == 0 || datum.value == 2.5 || datum.value == 5", "value": -22}, "value": -12}, "title": null}},
         "y": {"field": "lo", "type": "quantitative", "axis": {"orient": "right", "values": [0, 2, 4, 6, 8, 10, 12, 14, 16, 18], "labels": false, "tickSize": {"condition": {"test": "datum.value == 0 || datum.value == 10", "value": -22}, "value": -12}, "title": null}},
         "y2": {"field": "hi"}
       }},
      {"data": {"name": "obs"}, "transform": [{"filter": "datum.panel == '0.135'"}],
       "mark": {"type": "point", "filled": true, "stroke": "#ffff00", "strokeWidth": 1.6, "size": 576, "opacity": 1},
       "encoding": {
         "x": {"field": "p", "type": "quantitative", "axis": null},
         "y": {"field": "v", "type": "quantitative", "axis": null},
         "shape": {"field": "exp", "type": "nominal", "legend": {"title": null}},
         "fill": {"field": "exp", "type": "nominal", "legend": {"title": null}}
       }},
      {"data": {"name": "labels"}, "transform": [{"filter": "datum.panel == '0.135'"}],
       "mark": {"type": "text", "align": "left", "baseline": "middle", "fontSize": 41, "color": "#ffff00", "font": "DejaVu Sans"},
       "encoding": {"x": {"datum": 3.45, "type": "quantitative", "axis": null}, "y": {"datum": 12.9, "type": "quantitative", "axis": null}, "text": {"field": "label"}}}
    ], "resolve": {"axis": {"x": "independent", "y": "independent"}}},
    {"width": 648, "height": 256, "layer": [
      {"data": {"name": "model"}, "transform": [{"filter": "datum.panel == '0.175'"}, {"fold": ["c", "u", "l"], "as": ["curve", "v"]}],
       "mark": {"type": "line", "color": "#ffff00", "strokeWidth": 1.6},
       "encoding": {
         "x": {"field": "p", "type": "quantitative", "scale": {"domain": [0, 7], "nice": false, "zero": false}, "axis": {"orient": "bottom", "values": [0, 0.5, 1, 1.5, 2, 2.5, 3, 3.5, 4, 4.5, 5, 5.5, 6, 6.5], "labelExpr": "datum.value == 0 ? '0' : datum.value == 2.5 ? '2.5' : datum.value == 5 ? '5' : ''", "tickSize": {"condition": {"test": "datum.value == 0 || datum.value == 2.5 || datum.value == 5", "value": -22}, "value": -12}, "labelPadding": 32.5, "title": "Pₖ (GeV/c)", "titleFontSize": 42, "titlePadding": 2}},
         "y": {"field": "v", "type": "quantitative", "scale": {"domain": [0, 18], "nice": false}, "axis": {"orient": "left", "values": [0, 2, 4, 6, 8, 10, 12, 14, 16], "labelExpr": "datum.value == 0 ? '0' : datum.value == 10 ? '10' : ''", "tickSize": {"condition": {"test": "datum.value == 0 || datum.value == 10", "value": -22}, "value": -12}, "labelPadding": 51, "title": "Ed³σ/dp³", "titleFontSize": 44, "titlePadding": 4}},
         "strokeDash": {"field": "curve", "type": "nominal", "scale": {"domain": ["c", "u", "l"], "range": [[1, 0], [9, 7], [9, 7]]}, "legend": null}
       }},
      {"data": {"name": "obs"}, "transform": [{"filter": "datum.panel == '0.175' && isValid(datum.lo)"}],
       "mark": {"type": "rule", "color": "#ffff00", "strokeWidth": 1.6},
       "encoding": {
         "x": {"field": "p", "type": "quantitative", "axis": {"orient": "top", "values": [0, 0.5, 1, 1.5, 2, 2.5, 3, 3.5, 4, 4.5, 5, 5.5, 6, 6.5, 7], "labels": false, "tickSize": {"condition": {"test": "datum.value == 0 || datum.value == 2.5 || datum.value == 5", "value": -22}, "value": -12}, "title": null}},
         "y": {"field": "lo", "type": "quantitative", "axis": {"orient": "right", "values": [0, 2, 4, 6, 8, 10, 12, 14, 16, 18], "labels": false, "tickSize": {"condition": {"test": "datum.value == 0 || datum.value == 10", "value": -22}, "value": -12}, "title": null}},
         "y2": {"field": "hi"}
       }},
      {"data": {"name": "obs"}, "transform": [{"filter": "datum.panel == '0.175'"}],
       "mark": {"type": "point", "filled": true, "stroke": "#ffff00", "strokeWidth": 1.6, "size": 576, "opacity": 1},
       "encoding": {
         "x": {"field": "p", "type": "quantitative", "axis": null},
         "y": {"field": "v", "type": "quantitative", "axis": null},
         "shape": {"field": "exp", "type": "nominal", "legend": {"title": null}},
         "fill": {"field": "exp", "type": "nominal", "legend": {"title": null}}
       }},
      {"data": {"name": "labels"}, "transform": [{"filter": "datum.panel == '0.175'"}],
       "mark": {"type": "text", "align": "left", "baseline": "middle", "fontSize": 41, "color": "#ffff00", "font": "DejaVu Sans"},
       "encoding": {"x": {"datum": 3.45, "type": "quantitative", "axis": null}, "y": {"datum": 12.9, "type": "quantitative", "axis": null}, "text": {"field": "label"}}}
    ], "resolve": {"axis": {"x": "independent", "y": "independent"}}},
    {"width": 648, "height": 256, "layer": [
      {"data": {"name": "model"}, "transform": [{"filter": "datum.panel == '0.225'"}, {"fold": ["c", "u", "l"], "as": ["curve", "v"]}],
       "mark": {"type": "line", "color": "#ffff00", "strokeWidth": 1.6},
       "encoding": {
         "x": {"field": "p", "type": "quantitative", "scale": {"domain": [0, 7], "nice": false, "zero": false}, "axis": {"orient": "bottom", "values": [0, 0.5, 1, 1.5, 2, 2.5, 3, 3.5, 4, 4.5, 5, 5.5, 6, 6.5], "labelExpr": "datum.value == 0 ? '0' : datum.value == 2.5 ? '2.5' : datum.value == 5 ? '5' : ''", "tickSize": {"condition": {"test": "datum.value == 0 || datum.value == 2.5 || datum.value == 5", "value": -22}, "value": -12}, "labelPadding": 32.5, "title": "Pₖ (GeV/c)", "titleFontSize": 42, "titlePadding": 2}},
         "y": {"field": "v", "type": "quantitative", "scale": {"domain": [0, 18], "nice": false}, "axis": {"orient": "left", "values": [0, 2, 4, 6, 8, 10, 12, 14, 16], "labelExpr": "datum.value == 0 ? '0' : datum.value == 10 ? '10' : ''", "tickSize": {"condition": {"test": "datum.value == 0 || datum.value == 10", "value": -22}, "value": -12}, "labelPadding": 51, "title": "Ed³σ/dp³", "titleFontSize": 44, "titlePadding": 4}},
         "strokeDash": {"field": "curve", "type": "nominal", "scale": {"domain": ["c", "u", "l"], "range": [[1, 0], [9, 7], [9, 7]]}, "legend": null}
       }},
      {"data": {"name": "obs"}, "transform": [{"filter": "datum.panel == '0.225' && isValid(datum.lo)"}],
       "mark": {"type": "rule", "color": "#ffff00", "strokeWidth": 1.6},
       "encoding": {
         "x": {"field": "p", "type": "quantitative", "axis": {"orient": "top", "values": [0, 0.5, 1, 1.5, 2, 2.5, 3, 3.5, 4, 4.5, 5, 5.5, 6, 6.5, 7], "labels": false, "tickSize": {"condition": {"test": "datum.value == 0 || datum.value == 2.5 || datum.value == 5", "value": -22}, "value": -12}, "title": null}},
         "y": {"field": "lo", "type": "quantitative", "axis": {"orient": "right", "values": [0, 2, 4, 6, 8, 10, 12, 14, 16, 18], "labels": false, "tickSize": {"condition": {"test": "datum.value == 0 || datum.value == 10", "value": -22}, "value": -12}, "title": null}},
         "y2": {"field": "hi"}
       }},
      {"data": {"name": "obs"}, "transform": [{"filter": "datum.panel == '0.225'"}],
       "mark": {"type": "point", "filled": true, "stroke": "#ffff00", "strokeWidth": 1.6, "size": 576, "opacity": 1},
       "encoding": {
         "x": {"field": "p", "type": "quantitative", "axis": null},
         "y": {"field": "v", "type": "quantitative", "axis": null},
         "shape": {"field": "exp", "type": "nominal", "legend": {"title": null}},
         "fill": {"field": "exp", "type": "nominal", "legend": {"title": null}}
       }},
      {"data": {"name": "labels"}, "transform": [{"filter": "datum.panel == '0.225'"}],
       "mark": {"type": "text", "align": "left", "baseline": "middle", "fontSize": 41, "color": "#ffff00", "font": "DejaVu Sans"},
       "encoding": {"x": {"datum": 3.45, "type": "quantitative", "axis": null}, "y": {"datum": 12.9, "type": "quantitative", "axis": null}, "text": {"field": "label"}}}
    ], "resolve": {"axis": {"x": "independent", "y": "independent"}}}
  ],
  "config": {
    "view": {"stroke": null},
    "font": "DejaVu Sans",
    "axis": {"domainColor": "#ffff00", "domainWidth": 2, "tickColor": "#ffff00", "tickWidth": 2, "labelColor": "#ffff00", "titleColor": "#ffff00", "labelFont": "DejaVu Sans", "titleFont": "DejaVu Sans", "labelFontSize": 28, "titleFontSize": 38, "titleFontWeight": "normal", "grid": false, "labelFlush": false, "labelOverlap": false},
    "legend": {"orient": "none", "legendX": 722, "legendY": 1182, "columns": 2, "labelColor": "#ffff00", "labelFont": "DejaVu Sans", "labelFontSize": 34, "labelLimit": 0, "symbolSize": 500, "symbolStrokeColor": "#ffff00", "symbolStrokeWidth": 1.6, "symbolOpacity": 1, "labelOffset": 20, "columnPadding": 31, "rowPadding": 22.7, "padding": 0}
  }
}
